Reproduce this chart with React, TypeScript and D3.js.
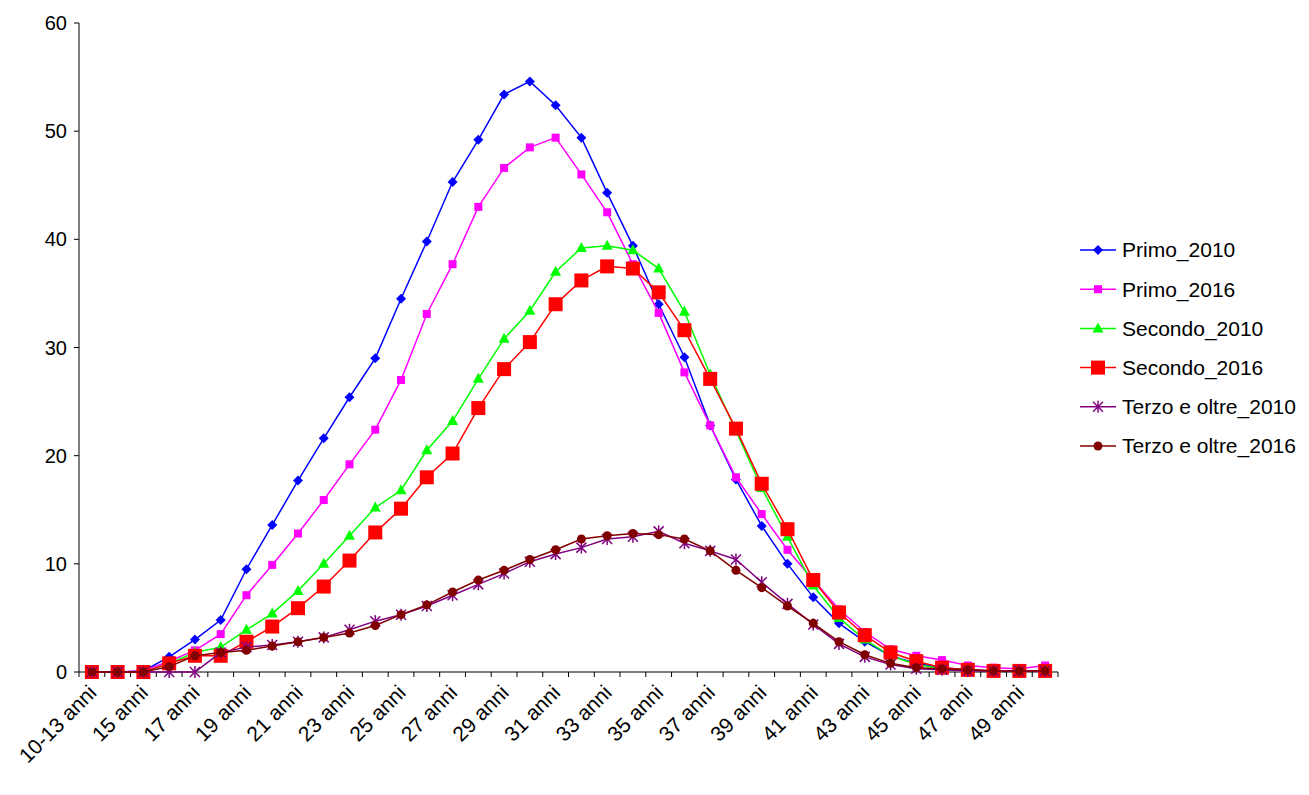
import React from "react";
import * as d3 from "d3";

const categories: string[] = ["10-13 anni", ...d3.range(14, 51).map((a) => `${a} anni`)];
const primo2010 = [0,0,0.1,1.4,3.0,4.8,9.5,13.6,17.7,21.6,25.4,29.0,34.5,39.8,45.3,49.2,53.4,54.6,52.4,49.4,44.3,39.4,34.0,29.1,22.8,17.8,13.5,10.0,6.9,4.5,2.8,1.5,0.8,0.4,0.2,0.1,0.1,0.1];
const primo2016 = [0,0,0.1,1.0,2.0,3.5,7.1,9.9,12.8,15.9,19.2,22.4,27.0,33.1,37.7,43.0,46.6,48.5,49.4,46.0,42.5,37.7,33.2,27.7,22.8,18.0,14.6,11.3,8.5,5.8,3.7,2.1,1.5,1.1,0.6,0.4,0.3,0.6];
const secondo2010 = [0,0,0,0.8,1.8,2.3,3.9,5.4,7.5,10.0,12.6,15.2,16.8,20.5,23.2,27.1,30.8,33.4,37.0,39.2,39.4,39.0,37.3,33.3,27.5,22.3,17.0,12.5,8.0,5.0,3.0,1.5,0.7,0.3,0.2,0.1,0.1,0.1];
const secondo2016 = [0,0,0,0.8,1.5,1.5,2.8,4.2,5.9,7.9,10.3,12.9,15.1,18.0,20.2,24.4,28.0,30.5,34.0,36.2,37.5,37.3,35.1,31.6,27.1,22.5,17.4,13.2,8.5,5.5,3.4,1.8,1.0,0.4,0.2,0.1,0.1,0.1];
const terzo2010 = [0,0,0,0,0,1.8,2.3,2.5,2.8,3.2,3.9,4.7,5.3,6.1,7.1,8.1,9.1,10.2,10.9,11.5,12.3,12.5,13.0,11.9,11.2,10.4,8.3,6.3,4.4,2.6,1.4,0.7,0.3,0.2,0.1,0.1,0.1,0.1];
const terzo2016 = [0,0,0,0.5,1.5,1.8,2.0,2.4,2.8,3.2,3.6,4.3,5.3,6.2,7.4,8.5,9.4,10.4,11.3,12.3,12.6,12.8,12.7,12.3,11.2,9.4,7.8,6.1,4.5,2.8,1.6,0.8,0.4,0.3,0.2,0.1,0.1,0.1];
const yTicks = [0, 10, 20, 30, 40, 50, 60];

const series = [
  { name: "Primo_2010", values: primo2010, color: "#0000FF", marker: "diamond" },
  { name: "Primo_2016", values: primo2016, color: "#FF00FF", marker: "smallsquare" },
  { name: "Secondo_2010", values: secondo2010, color: "#00FF00", marker: "triangle" },
  { name: "Secondo_2016", values: secondo2016, color: "#FF0000", marker: "bigsquare" },
  { name: "Terzo e oltre_2010", values: terzo2010, color: "#800080", marker: "star" },
  { name: "Terzo e oltre_2016", values: terzo2016, color: "#800000", marker: "circle" },
];

function Marker({ type, x, y, color }: { type: string; x: number; y: number; color: string }) {
  switch (type) {
    case "diamond":
      return <path d={`M${x},${y - 5}L${x + 5},${y}L${x},${y + 5}L${x - 5},${y}Z`} fill={color} />;
    case "smallsquare":
      return <rect x={x - 4} y={y - 4} width={8} height={8} fill={color} />;
    case "triangle":
      return <path d={`M${x},${y - 6}L${x + 5.5},${y + 4}L${x - 5.5},${y + 4}Z`} fill={color} />;
    case "bigsquare":
      return <rect x={x - 7} y={y - 7} width={14} height={14} fill={color} />;
    case "star":
      return (
        <g stroke={color} strokeWidth={1.5}>
          <line x1={x - 5} y1={y - 5} x2={x + 5} y2={y + 5} />
          <line x1={x - 5} y1={y + 5} x2={x + 5} y2={y - 5} />
          <line x1={x} y1={y - 6} x2={x} y2={y + 6} />
        </g>
      );
    default:
      return <circle cx={x} cy={y} r={4.5} fill={color} />;
  }
}

export default function App() {
  const W = 1309, H = 795;
  const left = 79, right = 1058, top = 23, bottom = 672;
  const x = d3.scaleBand<string>().domain(categories).range([left, right]);
  const cx = (i: number) => (x(categories[i]) as number) + x.bandwidth() / 2;
  const y = d3.scaleLinear().domain([0, 60]).range([bottom, top]);
  const line = d3.line<number>().x((_, i) => cx(i)).y((d) => y(d));
  const font = "'Liberation Sans', Arial, sans-serif";
  const fs = 21;
  return (
    <svg width={W} height={H} style={{ position: "absolute", left: 0, top: 0 }} fontFamily={font}>
      <rect width={W} height={H} fill="#fff" />
      <line x1={left} y1={top} x2={left} y2={bottom} stroke="#000" />
      <line x1={left} y1={bottom} x2={right} y2={bottom} stroke="#000" />
      {yTicks.map((t) => (
        <g key={t}>
          <line x1={left - 5} x2={left} y1={y(t)} y2={y(t)} stroke="#000" />
          <text x={left - 12} y={y(t)} dy="0.35em" textAnchor="end" fontSize={fs - 1}>{t}</text>
        </g>
      ))}
      {categories.map((c) => (
        <line key={c} x1={x(c)!} x2={x(c)!} y1={bottom} y2={bottom + 5} stroke="#000" />
      ))}
      <line x1={right} x2={right} y1={bottom} y2={bottom + 5} stroke="#000" />
      {categories.map((c, i) =>
        i % 2 === 0 ? (
          <text key={c} transform={`translate(${cx(i) + 6},${bottom + 22}) rotate(-45)`} textAnchor="end" fontSize={fs}>{c}</text>
        ) : null
      )}
      {series.map((s) => (
        <g key={s.name}>
          <path d={line(s.values)!} fill="none" stroke={s.color} strokeWidth={1.5} />
          {s.values.map((v, i) => <Marker key={i} type={s.marker} x={cx(i)} y={y(v)} color={s.color} />)}
        </g>
      ))}
      {series.map((s, i) => {
        const ly = 250 + i * 39.2;
        return (
          <g key={s.name}>
            <line x1={1080} x2={1116} y1={ly} y2={ly} stroke={s.color} strokeWidth={1.5} />
            <Marker type={s.marker} x={1098} y={ly} color={s.color} />
            <text x={1122} y={ly} dy="0.35em" fontSize={fs}>{s.name}</text>
          </g>
        );
      })}
    </svg>
  );
}
